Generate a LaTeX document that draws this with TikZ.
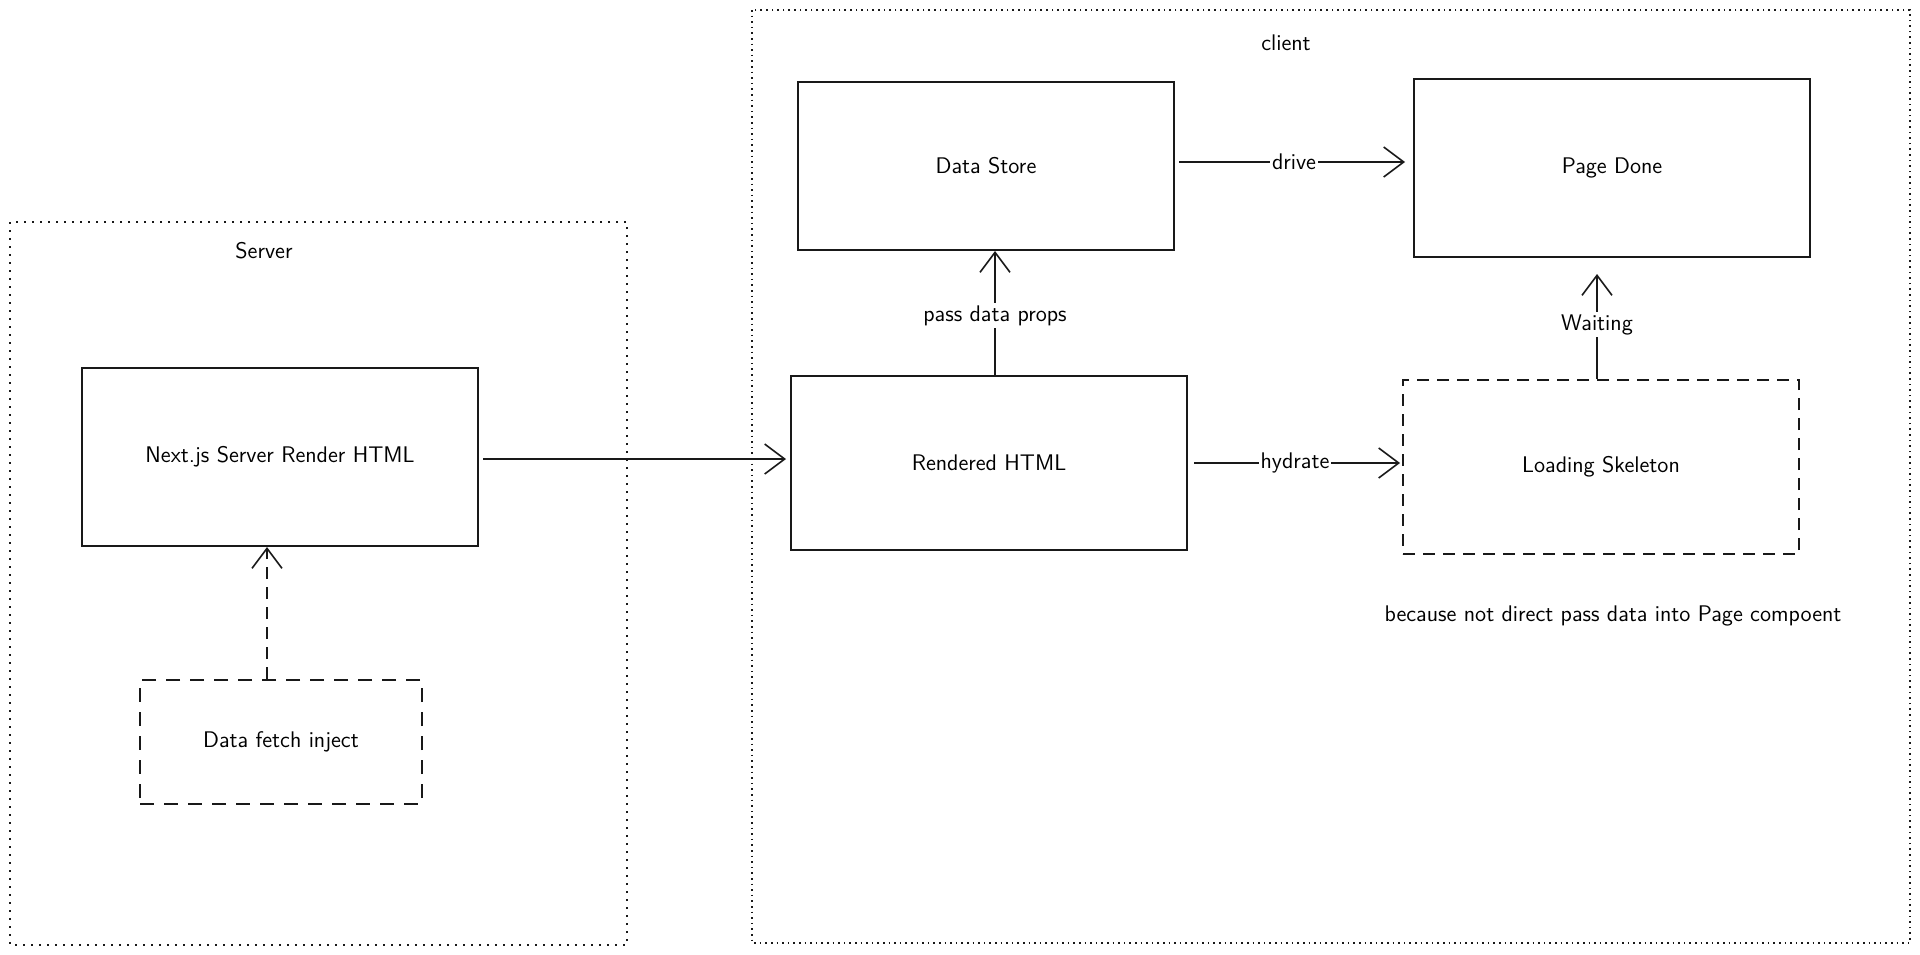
\documentclass[tikz,border=0pt]{standalone}
\usetikzlibrary{arrows.meta,positioning}
\definecolor{InkClr}{rgb}{0.1,0.1,0.1}

\tikzset{
  txt/.style={font=\fontsize{11.3}{13}\selectfont\sffamily},
  box/.style={txt,draw=InkClr,line width=1pt,minimum width=198pt,minimum height=89pt,inner sep=0pt},
  ghost/.style={box,dash pattern=on 6pt off 4pt},
  zone/.style={draw=InkClr,line width=0.9pt,dash pattern=on 1pt off 3pt},
  flow/.style={draw=InkClr,line width=0.8pt,-{Straight Barb[length=10pt,width=15pt,line width=0.8pt]}},
  tag/.style={txt,fill=white,inner sep=1pt}
}

\begin{document}
\begin{tikzpicture}[x=0.5pt,y=-0.5pt]
\useasboundingbox (0,0) rectangle (1920,954);

% Server side
\draw[zone] (10,222) rectangle (627,945);
\node[txt] (srvlbl) at (264,251) {Server};
\node[box] (srv) at (280,457) {Next.js Server Render HTML};
\node[ghost,minimum width=141pt,minimum height=62pt,dash pattern=on 7pt off 5pt] (fetch) at (281,742) {Data fetch inject};

% Client side
\draw[zone,dash pattern=on 0.8pt off 2pt] (752,10) rectangle (1910,943);
\node[txt] (clilbl) at (1286,43) {client};
\node[box,minimum width=188pt,minimum height=84pt] (store) at (986,166) {Data Store};
\node[box] (page) at (1612,168) {Page Done};
\node[box,minimum height=87pt] (rend) at (989,463) {Rendered HTML};
\node[ghost,minimum height=87pt] (skel) at (1601,467) {Loading Skeleton};
\node[txt] (why) at (1613,616) {because not direct pass data into Page compoent};

% Connectors
\draw[flow,dash pattern=on 6pt off 4pt] ([xshift=-7pt]fetch.north) -- ([xshift=-7pt]fetch.north |- srv.south);
\draw[flow,shorten <=2pt,shorten >=2pt] ([yshift=-1pt]srv.east) -- ([yshift=-1pt]srv.east -| rend.west);
\draw[flow] ([xshift=3pt]rend.north) -- node[tag,pos=0.48]{pass data props} ([xshift=3pt]rend.north |- store.south);
\draw[flow,shorten <=2pt,shorten >=4pt] ([yshift=2pt]store.east) -- node[tag]{drive} ([yshift=2pt]store.east -| page.west);
\draw[flow,shorten <=3pt,shorten >=1pt] (rend.east) -- node[tag]{hydrate} (rend.east -| skel.west);
\draw[flow,shorten >=8pt] ([xshift=-2pt]skel.north) -- node[tag,pos=0.45]{Waiting} ([xshift=-2pt]skel.north |- page.south);
\end{tikzpicture}
\end{document}
